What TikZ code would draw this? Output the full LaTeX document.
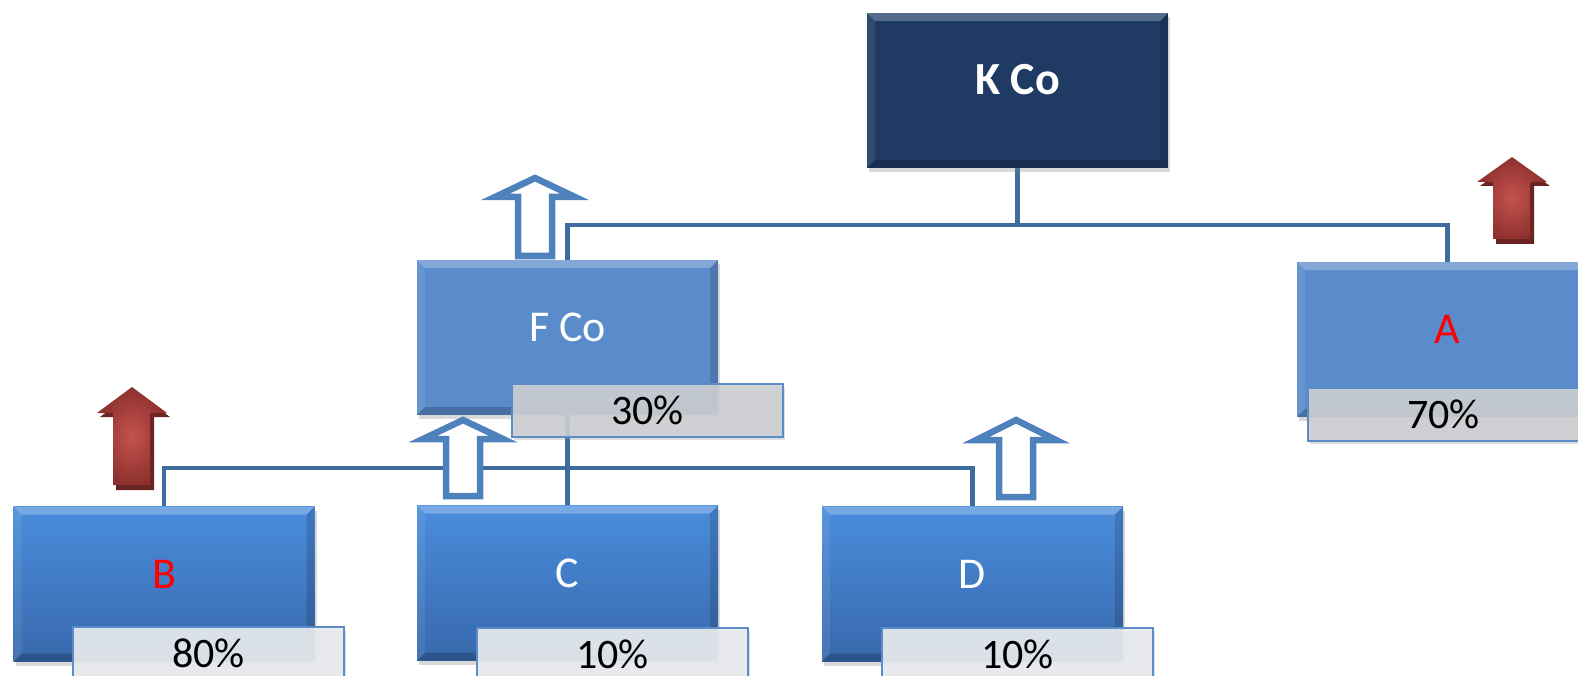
\documentclass[tikz,border=0pt]{standalone}
\usepackage{fontspec}
\setmainfont{Carlito}
\usetikzlibrary{shadows,calc}

\pgfdeclarelayer{back}
\pgfsetlayers{back,main}

\definecolor{navy}{HTML}{1F3B64}
\definecolor{midblue}{HTML}{5A8BCB}
\definecolor{toplight}{HTML}{4A8DDC}
\definecolor{botdark}{HTML}{3868AC}
\definecolor{linkblue}{HTML}{3F6C9F}
\definecolor{outlineblue}{HTML}{4F81BD}
\definecolor{tagedge}{HTML}{5B8CC8}
\definecolor{taggray}{HTML}{CDCFD3}
\definecolor{taglight}{HTML}{E8EBEF}
\definecolor{redlight}{HTML}{C4534F}
\definecolor{reddark}{HTML}{8E312E}
\definecolor{redshade}{HTML}{6A2422}

\tikzset{
  bevel/.style={path picture={
    \fill[white,opacity=.25] (path picture bounding box.north west) -- (path picture bounding box.north east)
      -- ++(-8,8) -- ($(path picture bounding box.north west)+(8,8)$) -- cycle;
    \fill[white,opacity=.08] (path picture bounding box.north west) -- (path picture bounding box.south west)
      -- ++(8,-8) -- ($(path picture bounding box.north west)+(8,8)$) -- cycle;
    \fill[black,opacity=.14] (path picture bounding box.north east) -- (path picture bounding box.south east)
      -- ++(-8,-8) -- ($(path picture bounding box.north east)+(-8,8)$) -- cycle;
    \fill[black,opacity=.20] (path picture bounding box.south west) -- (path picture bounding box.south east)
      -- ++(-8,-8) -- ($(path picture bounding box.south west)+(8,-8)$) -- cycle;
  }},
  box/.style={minimum width=301pt, minimum height=155pt, inner sep=0pt, text=white,
    font=\fontsize{44}{50}\selectfont, text height=28pt, text depth=20pt,
    drop shadow={opacity=.3, shadow xshift=2pt, shadow yshift=-4pt}, bevel},
  topbox/.style={box, fill=navy, font=\bfseries\fontsize{46}{52}\selectfont},
  midbox/.style={box, fill=midblue},
  lowbox/.style={box, top color=toplight, bottom color=botdark},
  tag/.style={draw=tagedge, line width=1.2pt, minimum width=271pt, minimum height=53pt,
    inner sep=0pt, text=black, font=\fontsize{42}{48}\selectfont,
    drop shadow={opacity=.25, shadow xshift=2pt, shadow yshift=-3pt}},
  graytag/.style={tag, fill=taggray, fill opacity=.9, text opacity=1},
  lighttag/.style={tag, fill=taglight, fill opacity=.92, text opacity=1},
  link/.style={draw=linkblue, line width=4.5pt},
  hollow/.style={draw=outlineblue, line width=6.5pt, fill=white, line join=miter},
}

% outlined up-arrow: x, tip y, head base y, bottom y
\newcommand\hollowup[4]{%
  \draw[hollow] (#1,{#2+5}) -- ({#1+40},{#3-2}) -- ({#1+17},{#3-2}) -- ({#1+17},{#4-3})
    -- ({#1-17},{#4-3}) -- ({#1-17},{#3-2}) -- ({#1-40},{#3-2}) -- cycle;}

% solid red up-arrow with its dark shadow: x, tip y, head base y, bottom y
\newcommand\solidup[4]{%
  \fill[redshade] ({#1+3},{#2+4}) -- ({#1+38},{#3+4}) -- ({#1+22},{#3+4}) -- ({#1+22},{#4+5})
    -- ({#1-16},{#4+5}) -- ({#1-16},{#3+4}) -- ({#1-32},{#3+4}) -- cycle;
  \shade[inner color=redlight, outer color=reddark] (#1,#2) -- ({#1+35},#3) -- ({#1+18},#3) -- ({#1+18},#4)
    -- ({#1-19},#4) -- ({#1-19},#3) -- ({#1-35},#3) -- cycle;}

\begin{document}
\begin{tikzpicture}[x=1pt, y=-1pt]
\useasboundingbox (0,0) rectangle (1578,676);

% boxes
\node[topbox] (kco) at (1017.5,90.5) {K Co};
\node[midbox] (fco) at (567.5,337.5) {F Co};
\node[midbox, text=red] (a) at (1447.5,339.5) {A};
\node[lowbox, text=red] (b) at (164,584) {B};
\node[lowbox] (c) at (567.5,583) {C};
\node[lowbox] (d) at (972.5,584) {D};

% connectors, behind the boxes
\coordinate (kj) at (1017.5,225);
\coordinate (bj) at (164,468);
\begin{pgfonlayer}{back}
\path[link] (kco.south) -- (kj) -| (fco.north);
\path[link] (kj) -| (a.north);
\path[link] (fco.south) -- (c.north);
\path[link] (b.north) -- (bj) -| (d.north);
\end{pgfonlayer}

% ownership tags
\node[graytag] (t30) at (647.5,410.5) {30\%};
\node[graytag] (t70) at (1443.5,414.5) {70\%};
\node[lighttag] (t80) at (208.5,653.5) {80\%};
\node[lighttag] (t10c) at (612.5,654.5) {10\%};
\node[lighttag] (t10d) at (1017.5,654.5) {10\%};

% arrows
\hollowup{535}{173}{199}{259}
\hollowup{463}{415}{441}{499}
\hollowup{1016}{415}{442}{500}
\solidup{132}{387}{413}{485}
\solidup{1512}{157}{182}{239}
\end{tikzpicture}
\end{document}
